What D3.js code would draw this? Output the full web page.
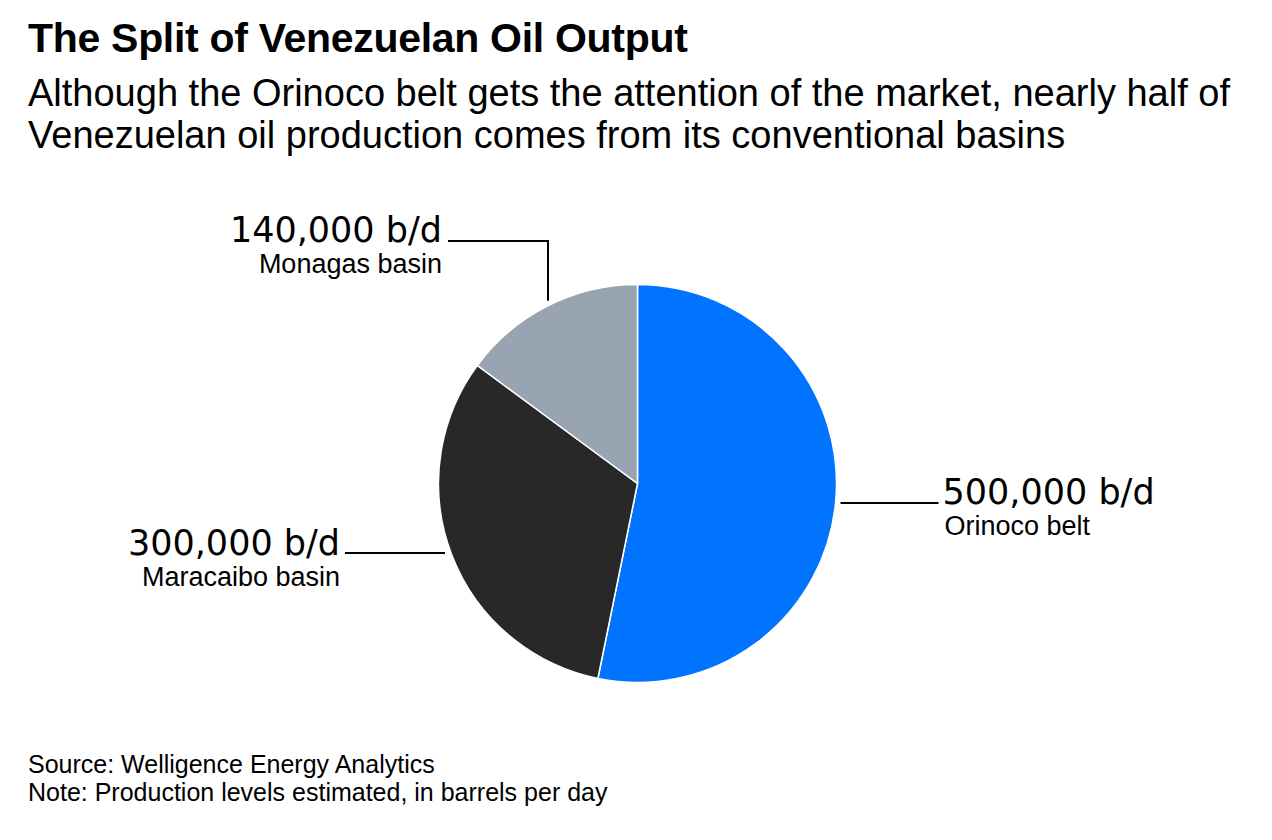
<!DOCTYPE html>
<html>
<head>
<meta charset="utf-8">
<script src="https://cdn.jsdelivr.net/npm/d3@7"></script>
<style>
  body { margin: 0; background: #fff; font-family: "Liberation Sans", Arial, sans-serif; }
  svg text { fill: #000; }
  .val { font-family: "DejaVu Sans", sans-serif; font-size: 35px; }
  .cat { font-size: 27px; }
</style>
</head>
<body>
<svg id="chart" width="1272" height="840"></svg>
<script>
var categories = ["Orinoco belt", "Maracaibo basin", "Monagas basin"];
var values = [500000, 300000, 140000];
var colors = ["#0073ff", "#282828", "#98a4b2"];

var width = 1272, height = 840;
var cx = 637.5, cy = 483.5, radius = 199;

var svg = d3.select("#chart");

// headings
svg.append("text")
  .attr("x", 28).attr("y", 52)
  .style("font-size", "41px").style("font-weight", "bold")
  .style("letter-spacing", "-0.3px")
  .text("The Split of Venezuelan Oil Output");

var sub = ["Although the Orinoco belt gets the attention of the market, nearly half of",
           "Venezuelan oil production comes from its conventional basins"];
svg.selectAll(".sub")
  .data(sub)
  .enter().append("text")
  .attr("class", "sub")
  .attr("x", 28)
  .attr("y", function(d, i) { return 106 + i * 42; })
  .style("font-size", "38px")
  .text(function(d) { return d; });

// pie
var data = categories.map(function(c, i) { return { label: c, value: values[i], color: colors[i] }; });
var pie = d3.pie().sort(null).value(function(d) { return d.value; });
var arc = d3.arc().innerRadius(0).outerRadius(radius);
var arcs = pie(data);

var g = svg.append("g").attr("transform", "translate(" + cx + "," + cy + ")");
g.selectAll("path")
  .data(arcs)
  .enter().append("path")
  .attr("d", arc)
  .attr("fill", function(d) { return d.data.color; })
  .attr("stroke", "#fff")
  .attr("stroke-width", 1.5);

var fmt = d3.format(",");

// leader lines + labels
// Orinoco: horizontal line to the right
var yO = 503 - cy;
var xO = Math.sqrt(radius * radius - yO * yO) + 5;
g.append("path")
  .attr("d", "M" + xO + "," + yO + "H" + (xO + 98))
  .attr("stroke", "#000").attr("stroke-width", 2).attr("fill", "none");
g.append("text").attr("class", "val").attr("x", xO + 102).attr("y", yO + 1)
  .text(fmt(values[0]) + " b/d");
g.append("text").attr("class", "cat").attr("x", xO + 104).attr("y", yO + 32)
  .text(categories[0]);

// Maracaibo: horizontal line to the left
var yM = 553 - cy;
var xM = -Math.sqrt(radius * radius - yM * yM) - 6;
g.append("path")
  .attr("d", "M" + xM + "," + yM + "H" + (xM - 100))
  .attr("stroke", "#000").attr("stroke-width", 2).attr("fill", "none");
g.append("text").attr("class", "val").attr("x", xM - 105).attr("y", yM + 2)
  .attr("text-anchor", "end")
  .text(fmt(values[1]) + " b/d");
g.append("text").attr("class", "cat").attr("x", xM - 105).attr("y", yM + 33)
  .attr("text-anchor", "end")
  .text(categories[1]);

// Monagas: vertical up then left
var xG = 548 - cx;
var yG = -Math.sqrt(radius * radius - xG * xG) - 5;
var yTop = 241 - cy;
g.append("path")
  .attr("d", "M" + xG + "," + yG + "V" + yTop + "H" + (xG - 100))
  .attr("stroke", "#000").attr("stroke-width", 2).attr("fill", "none");
g.append("text").attr("class", "val").attr("x", xG - 106).attr("y", yTop + 1)
  .attr("text-anchor", "end")
  .text(fmt(values[2]) + " b/d");
g.append("text").attr("class", "cat").attr("x", xG - 106).attr("y", yTop + 32)
  .attr("text-anchor", "end")
  .text(categories[2]);

// footer
svg.append("text").attr("x", 28).attr("y", 773)
  .style("font-size", "25px").text("Source: Welligence Energy Analytics");
svg.append("text").attr("x", 28).attr("y", 801)
  .style("font-size", "25px").text("Note: Production levels estimated, in barrels per day");
</script>
</body>
</html>
